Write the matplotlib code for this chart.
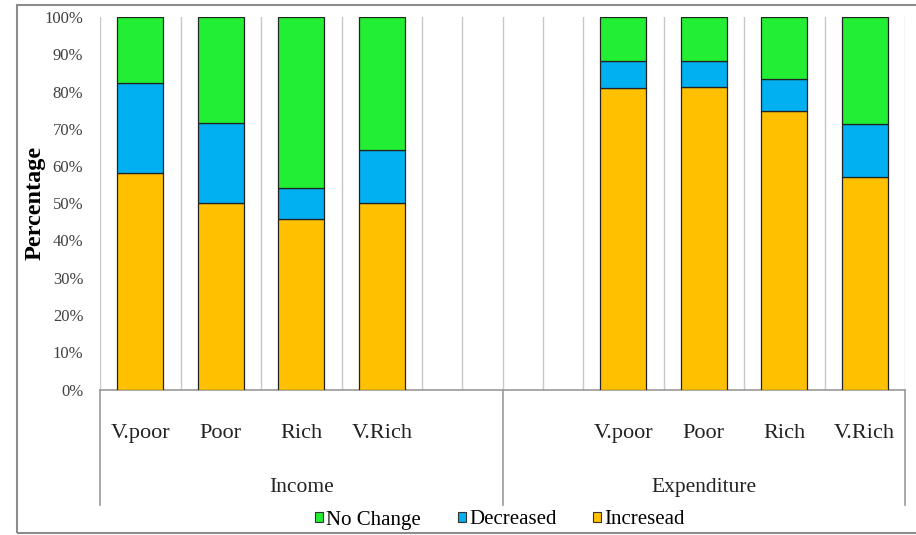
import numpy as np
import matplotlib.pyplot as plt
from matplotlib.patches import Rectangle, Patch
from matplotlib.transforms import blended_transform_factory

plt.rcParams['font.family'] = ['Liberation Serif', 'DejaVu Serif']

# categories (two empty slots separate the groups)
categories = ['V.poor', 'Poor', 'Rich', 'V.Rich', '', '', 'V.poor', 'Poor', 'Rich', 'V.Rich']
groups = ['Income', 'Expenditure']

# percentages
increased = np.array([58.1, 50.0, 45.7, 50.0, np.nan, np.nan, 81.0, 81.3, 74.7, 57.0])
decreased = np.array([24.2, 21.6, 8.4, 14.2, np.nan, np.nan, 7.1, 6.8, 8.6, 14.3])
no_change = 100 - increased - decreased

c_inc = '#FFC000'
c_dec = '#00B0F0'
c_nc = '#22EE33'

fig = plt.figure(figsize=(9.16, 5.35), dpi=100)
ax = fig.add_axes([100 / 916, 1 - 389.5 / 535, 805 / 916, 372.5 / 535])

x = np.arange(len(categories))
w = 0.57
kw = dict(width=w, edgecolor='#222222', linewidth=0.9, zorder=3)
ax.bar(x, increased, color=c_inc, **kw)
ax.bar(x, decreased, bottom=increased, color=c_dec, **kw)
ax.bar(x, no_change, bottom=increased + decreased, color=c_nc, **kw)

ax.set_xlim(-0.5, len(categories) - 0.5)
ax.set_ylim(0, 100)
ax.set_yticks(np.arange(0, 101, 10))
ax.set_yticklabels([f'{v}%' for v in range(0, 101, 10)], fontsize=12, color='#404040')
ax.tick_params(axis='y', length=0, pad=12)

ax.set_xticks(x)
ax.set_xticklabels(categories, fontsize=16, color='#222222')
ax.tick_params(axis='x', length=0, pad=25)

# vertical gridlines between slots
grid_x = list(np.arange(-0.5, len(categories), 1.0)) + [4.0, 5.0]
for gx in grid_x:
    ax.axvline(gx, color='#C8C8C8', linewidth=1.0, zorder=1)

for s in ['top', 'right', 'left']:
    ax.spines[s].set_visible(False)
ax.spines['bottom'].set_color('#999999')
ax.spines['bottom'].set_linewidth(1.2)

# group separators and group labels
tr = blended_transform_factory(ax.transData, ax.transAxes)
for gx in [-0.5, 4.5, 9.5]:
    ax.plot([gx, gx], [0, -0.31], transform=tr, color='#999999', linewidth=1.2, clip_on=False)
ax.text(2.0, -0.262, groups[0], transform=tr, ha='center', va='center', fontsize=15.5, color='#222222')
ax.text(7.0, -0.262, groups[1], transform=tr, ha='center', va='center', fontsize=15.5, color='#222222')

fig.text(35 / 916, 1 - 203 / 535, 'Percentage', rotation=90, ha='center', va='center',
         fontsize=17.5, fontweight='bold')

handles = [Patch(facecolor=c_nc, edgecolor='#333333', linewidth=0.8, label='No Change'),
           Patch(facecolor=c_dec, edgecolor='#333333', linewidth=0.8, label='Decreased'),
           Patch(facecolor=c_inc, edgecolor='#333333', linewidth=0.8, label='Incresead')]
fig.legend(handles=handles, loc='center', bbox_to_anchor=(500 / 916, 1 - 520 / 535), ncol=3,
           frameon=False, fontsize=15, handlelength=0.4, handleheight=0.4,
           handletextpad=0.15, columnspacing=1.75)

# outer chart border
fig.patches.append(Rectangle((17 / 916, 1 - 533 / 535), 1.0, 528 / 535, transform=fig.transFigure,
                             fill=False, edgecolor='#8C8C8C', linewidth=1.5))

fig.savefig('out.png', dpi=100)
